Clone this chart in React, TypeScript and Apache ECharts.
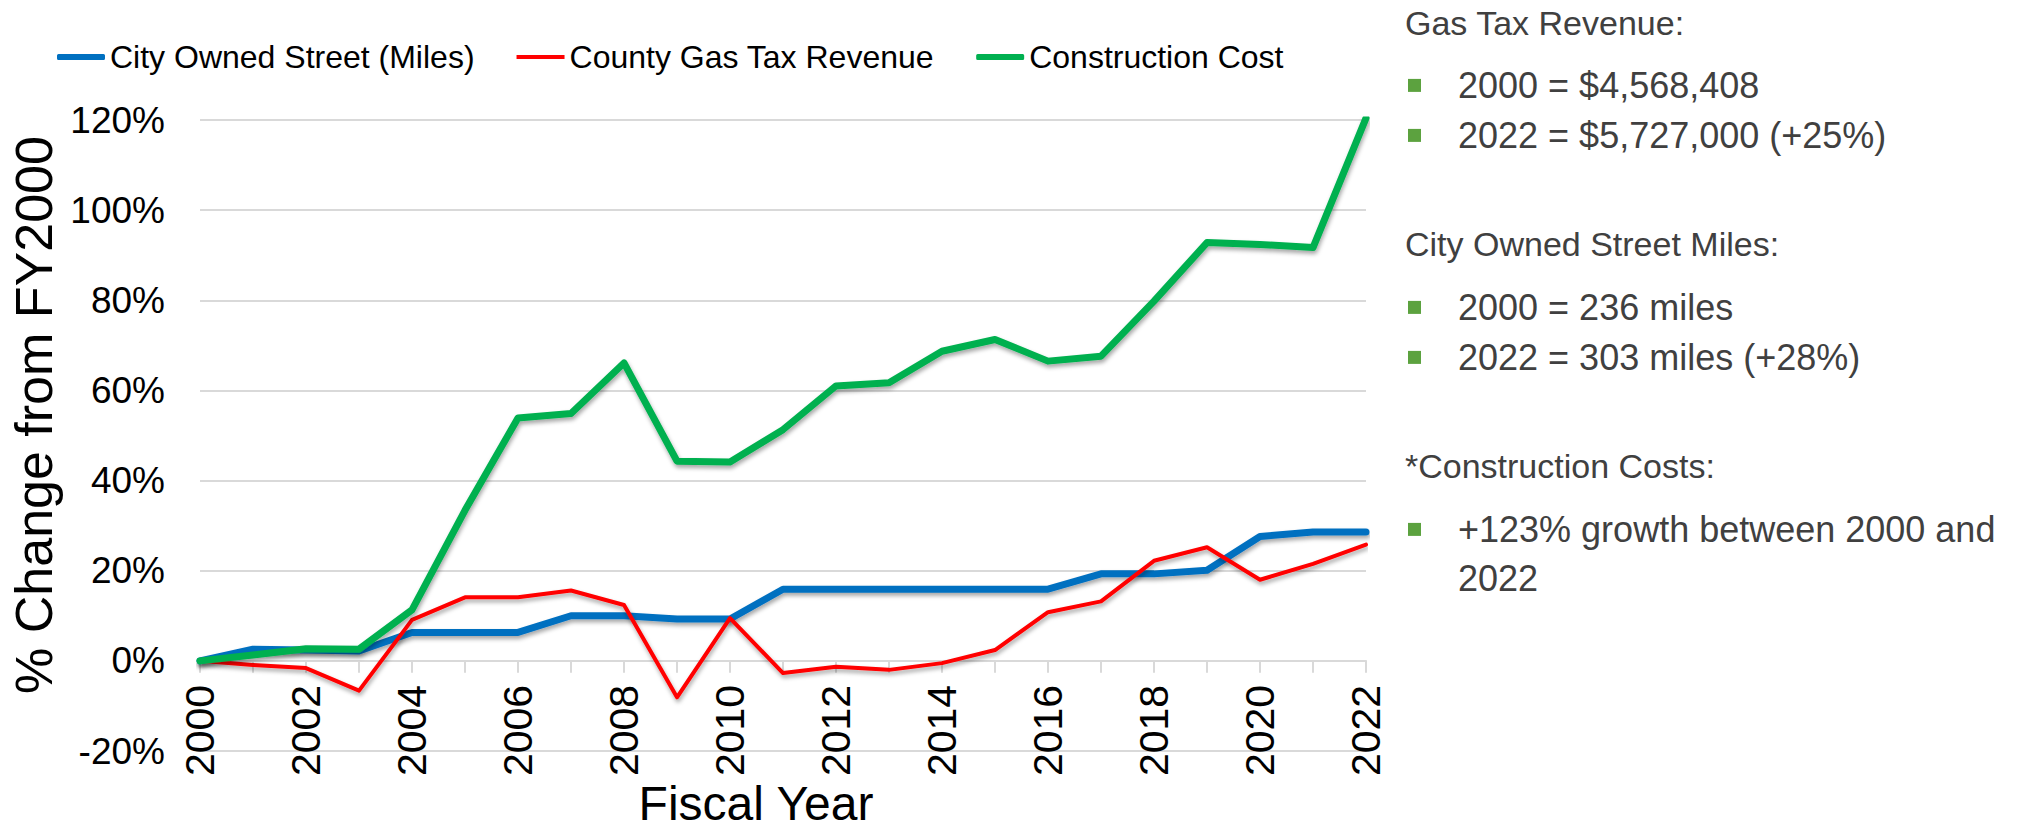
import React, { useEffect, useRef } from "react";
import * as echarts from "echarts";

const years = [
  "2000", "2001", "2002", "2003", "2004", "2005", "2006", "2007", "2008", "2009", "2010", "2011",
  "2012", "2013", "2014", "2015", "2016", "2017", "2018", "2019", "2020", "2021", "2022",
];

const cityOwnedStreet = [
  0, 2.6, 2.4, 2.2, 6.3, 6.3, 6.3, 10.0, 10.0, 9.3, 9.3, 15.9,
  15.9, 15.9, 15.9, 15.9, 15.9, 19.3, 19.3, 20.1, 27.6, 28.6, 28.6,
];

const countyGasTax = [
  0, -0.9, -1.6, -6.6, 9.1, 14.1, 14.1, 15.6, 12.4, -8.1, 9.5, -2.7,
  -1.3, -2.0, -0.5, 2.4, 10.8, 13.2, 22.2, 25.2, 18.0, 21.5, 25.8,
];

const constructionCost = [
  0, 1.3, 2.7, 2.6, 11.3, 33.4, 53.9, 54.9, 66.1, 44.3, 44.1, 51.3,
  61.0, 61.7, 68.7, 71.3, 66.5, 67.6, 79.8, 92.8, 92.4, 91.7, 120.4,
];

const seriesNames = ["City Owned Street (Miles)", "County Gas Tax Revenue", "Construction Cost"];
const seriesColors = ["#0070C0", "#FF0000", "#00B050"];

const yTicks = { min: -20, max: 120, interval: 20 };

// Side panel texts: [text, isBullet]
const panelLines: [string, boolean][] = [
  ["Gas Tax Revenue:", false],
  ["2000 = $4,568,408", true],
  ["2022 = $5,727,000 (+25%)", true],
  ["City Owned Street Miles:", false],
  ["2000 = 236 miles", true],
  ["2022 = 303 miles (+28%)", true],
  ["*Construction Costs:", false],
  ["+123% growth between 2000 and", true],
  ["2022", false],
];
const panelBaselines = [35, 98, 148, 256, 320, 370, 478, 542, 591];

export default function App() {
  const ref = useRef<HTMLDivElement>(null);

  useEffect(() => {
    if (!ref.current) return;
    const chart = echarts.init(ref.current, null, { renderer: "svg" });
    const FONT = '"Liberation Sans", Arial, sans-serif';
    const TEXT_GRAY = "#404040";

    const GRID_TOP = 120;
    const GRID_BOTTOM = 81;
    const plotH = 832 - GRID_TOP - GRID_BOTTOM;
    // Place the category axis where the value axis equals zero
    const zeroOffset = -plotH * (0 - yTicks.min) / (yTicks.max - yTicks.min);

    const panelGraphics: any[] = [];
    panelLines.forEach(([text, bullet], i) => {
      const base = panelBaselines[i];
      const isBody = bullet || text === "2022";
      const fs = isBody ? 36 : 34;
      const cy = base - fs * 0.35;
      panelGraphics.push({
        type: "text",
        x: isBody ? 1458 : 1405,
        y: cy,
        style: {
          text,
          fontSize: fs,
          fontFamily: FONT,
          fill: TEXT_GRAY,
          align: "left",
          verticalAlign: "middle",
        },
      });
      if (bullet) {
        panelGraphics.push({
          type: "rect",
          shape: { x: 1408, y: cy - 6.5, width: 13, height: 13 },
          style: { fill: "#5CA23F" },
        });
      }
    });

    const mkSeries = (name: string, data: number[], color: string, width: number) => ({
      name,
      type: "line",
      data,
      symbol: "none",
      smooth: false,
      z: 3,
      lineStyle: {
        color,
        width,
        cap: "round",
        join: "round",
        shadowColor: "rgba(0,0,0,0.35)",
        shadowBlur: 4,
        shadowOffsetX: 1,
        shadowOffsetY: 3,
      },
      itemStyle: { color },
      emphasis: { disabled: true },
    });

    chart.setOption({
      animation: false,
      backgroundColor: "#ffffff",
      textStyle: { fontFamily: FONT },
      grid: {
        left: 200,
        right: 651,
        top: GRID_TOP,
        bottom: GRID_BOTTOM,
        containLabel: false,
        outerBoundsMode: "none",
      },
      legend: {
        left: 52,
        top: 36,
        itemWidth: 48,
        itemHeight: 6,
        itemGap: 42,
        textStyle: { fontSize: 32, fontFamily: FONT, color: "#000" },
        data: [
          { name: seriesNames[0], icon: "roundRect" },
          { name: seriesNames[1], icon: "path://M0,0H48V4H0Z" },
          { name: seriesNames[2], icon: "roundRect" },
        ],
      },
      xAxis: {
        type: "category",
        data: years,
        boundaryGap: false,
        position: "bottom",
        offset: zeroOffset,
        axisLine: { onZero: false, lineStyle: { color: "#D9D9D9", width: 2 } },
        axisTick: { show: true, interval: 0, length: 12, lineStyle: { color: "#D9D9D9", width: 2 } },
        axisLabel: {
          interval: 1,
          rotate: 90,
          fontSize: 41,
          fontFamily: FONT,
          color: "#000",
          margin: 24,
        },
        splitLine: { show: false },
      },
      yAxis: {
        type: "value",
        min: yTicks.min,
        max: yTicks.max,
        interval: yTicks.interval,
        axisLine: { show: false },
        axisTick: { show: false },
        axisLabel: {
          formatter: "{value}%",
          fontSize: 37,
          fontFamily: FONT,
          color: "#000",
          margin: 35,
        },
        splitLine: { lineStyle: { color: "#D9D9D9", width: 2 } },
      },
      series: [
        mkSeries(seriesNames[0], cityOwnedStreet, seriesColors[0], 7),
        mkSeries(seriesNames[1], countyGasTax, seriesColors[1], 4),
        mkSeries(seriesNames[2], constructionCost, seriesColors[2], 7),
      ],
      graphic: [
        {
          type: "text",
          x: 34,
          y: 415,
          rotation: Math.PI / 2,
          style: {
            text: "% Change from FY2000",
            fontSize: 52,
            fontFamily: FONT,
            fill: "#000",
            align: "center",
            verticalAlign: "middle",
          },
        },
        {
          type: "text",
          x: 756,
          y: 803,
          style: {
            text: "Fiscal Year",
            fontSize: 48,
            fontFamily: FONT,
            fill: "#000",
            align: "center",
            verticalAlign: "middle",
          },
        },
        ...panelGraphics,
      ],
    });

    return () => chart.dispose();
  }, []);

  return (
    <div
      ref={ref}
      style={{ position: "fixed", left: 0, top: 0, width: 2017, height: 832, background: "#fff" }}
    />
  );
}
